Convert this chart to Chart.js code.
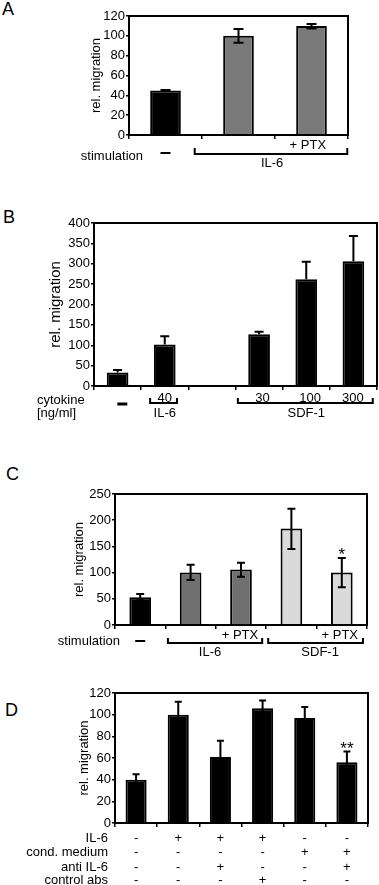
<!DOCTYPE html>
<html><head><meta charset="utf-8">
<script src="https://cdn.jsdelivr.net/npm/chart.js@4.4.1/dist/chart.umd.min.js"></script>
<style>
html,body{margin:0;padding:0;background:#fff;}
body{width:379px;height:885px;position:relative;overflow:hidden;font-family:"Liberation Sans",Arial,sans-serif;}
canvas{position:absolute;left:0;}
.lbl{position:absolute;font-size:18px;line-height:1;color:#000;}
</style></head><body>
<div class="lbl" style="left:2px;top:0px">A</div>
<div class="lbl" style="left:3px;top:208px">B</div>
<div class="lbl" style="left:6px;top:465px">C</div>
<div class="lbl" style="left:5px;top:701px">D</div>
<canvas id="cA" width="379" height="190" style="top:0px"></canvas>
<canvas id="cB" width="379" height="232" style="top:190px"></canvas>
<canvas id="cC" width="379" height="245" style="top:420px"></canvas>
<canvas id="cD" width="379" height="235" style="top:650px"></canvas>
<script>
// ---------- DATA ----------
// Panel A
const aCategories = ['control', 'IL-6', 'IL-6 + PTX'];
const aValues = [45, 100, 110];
const aErrLow = [44.5, 93, 107.5];
const aErrHigh = [45.5, 107, 112];
const aTicks = [0, 20, 40, 60, 80, 100, 120];

// Panel B
const bCategories = ['control', 'IL-6 40', '', 'SDF-1 30', 'SDF-1 100', 'SDF-1 300'];
const bValues = [33, 102, null, 127, 262, 306];
const bErrHigh = [39, 122, null, 133, 305, 368];
const bTicks = [0, 50, 100, 150, 200, 250, 300, 350, 400];
const bDoseIL6 = ['40'];
const bDoseSDF = ['30', '100', '300'];

// Panel C
const cCategories = ['control', 'IL-6', 'IL-6 + PTX', 'SDF-1', 'SDF-1 + PTX'];
const cValues = [53, 100, 106, 184, 100];
const cErrLow = [47, 86, 92, 145, 72];
const cErrHigh = [59, 115, 119, 222, 128];
const cMarks = [null, null, null, null, '*'];
const cTicks = [0, 50, 100, 150, 200, 250];

// Panel D
const dCategories = ['1', '2', '3', '4', '5', '6'];
const dValues = [40, 100, 61, 106, 97, 56];
const dErrLow = [36, 88, 46, 100, 87, 47];
const dErrHigh = [45, 112, 76, 113, 107, 66];
const dMarks = [null, null, null, null, null, '**'];
const dTicks = [0, 20, 40, 60, 80, 100, 120];
const dRowLabels = ['IL-6', 'cond. medium', 'anti IL-6', 'control abs'];
const dRowIL6 = ['-', '+', '+', '+', '-', '-'];
const dRowCond = ['-', '-', '-', '-', '+', '+'];
const dRowAnti = ['-', '-', '+', '-', '-', '+'];
const dRowCtrl = ['-', '-', '-', '+', '-', '-'];

// ---------- PLUGINS ----------
const FONT = '"Liberation Sans", Arial, sans-serif';

const boxPlugin = {
  id: 'box',
  afterDraw(chart) {
    const {ctx, chartArea: a} = chart;
    ctx.save();
    ctx.strokeStyle = '#000';
    ctx.lineWidth = 2;
    ctx.strokeRect(a.left, a.top, a.right - a.left, a.bottom - a.top);
    ctx.restore();
  }
};

const errPlugin = {
  id: 'err',
  afterDatasetsDraw(chart, args, opts) {
    if (!opts || !opts.high) return;
    const meta = chart.getDatasetMeta(0);
    const y = chart.scales.y;
    const ctx = chart.ctx;
    const vals = chart.data.datasets[0].data;
    ctx.save();
    ctx.strokeStyle = '#000';
    ctx.lineWidth = opts.lw || 2;
    const cap = opts.cap || 4;
    opts.high.forEach((hi, i) => {
      if (hi == null) return;
      const el = meta.data[i];
      const x = el.x;
      const lo = opts.low ? opts.low[i] : vals[i];
      const y1 = y.getPixelForValue(hi);
      const y0 = y.getPixelForValue(lo);
      ctx.beginPath();
      ctx.moveTo(x, y0); ctx.lineTo(x, y1);
      ctx.moveTo(x - cap, y1); ctx.lineTo(x + cap, y1);
      if (opts.low) { ctx.moveTo(x - cap, y0); ctx.lineTo(x + cap, y0); }
      ctx.stroke();
      if (opts.marks && opts.marks[i]) {
        ctx.fillStyle = '#000';
        ctx.font = '17px ' + FONT;
        ctx.textAlign = 'center';
        ctx.textBaseline = 'alphabetic';
        ctx.fillText(opts.marks[i], x, y1 + 2);
      }
    });
    ctx.restore();
  }
};

const annotPlugin = {
  id: 'annot',
  afterDraw(chart, args, opts) {
    if (!opts || !opts.items) return;
    const {ctx, chartArea: a} = chart;
    const xs = chart.scales.x;
    const px = (it, key) => (it[key] !== undefined ? xs.getPixelForValue(it[key]) : a.left + it.xl);
    ctx.save();
    ctx.fillStyle = '#000';
    ctx.strokeStyle = '#000';
    opts.items.forEach(it => {
      if (it.t === 'text') {
        ctx.font = (it.size || 13) + 'px ' + FONT;
        ctx.textAlign = it.align || 'center';
        ctx.textBaseline = 'middle';
        ctx.fillText(it.s, px(it, 'c'), a.bottom + it.dy);
      } else if (it.t === 'dash') {
        const x = px(it, 'c');
        ctx.lineWidth = it.lw || 2;
        ctx.beginPath();
        ctx.moveTo(x - it.w / 2, a.bottom + it.dy);
        ctx.lineTo(x + it.w / 2, a.bottom + it.dy);
        ctx.stroke();
      } else if (it.t === 'bracket') {
        const x0 = xs.getPixelForValue(it.c0), x1 = xs.getPixelForValue(it.c1);
        const yb = a.bottom + it.dy;
        ctx.lineWidth = 2;
        ctx.beginPath();
        ctx.moveTo(x0, yb - it.h); ctx.lineTo(x0, yb); ctx.lineTo(x1, yb); ctx.lineTo(x1, yb - it.h);
        ctx.stroke();
      }
    });
    ctx.restore();
  }
};

// ---------- CHART BUILDER ----------
function makeChart(id, cfg) {
  const t = cfg.ticks;
  return new Chart(document.getElementById(id), {
    type: 'bar',
    data: {
      labels: cfg.labels,
      datasets: [{
        data: cfg.values,
        backgroundColor: cfg.colors,
        borderColor: '#000',
        borderWidth: 2,
        borderSkipped: 'start',
        categoryPercentage: 1,
        barPercentage: cfg.barPct
      }]
    },
    options: {
      responsive: false,
      animation: false,
      devicePixelRatio: 1,
      layout: { padding: cfg.pad },
      plugins: {
        legend: { display: false },
        tooltip: { enabled: false },
        err: cfg.err,
        annot: { items: cfg.items }
      },
      scales: {
        x: {
          ticks: { display: false },
          grid: { drawOnChartArea: false, drawTicks: true, tickLength: 4, color: '#000', lineWidth: 1.5, offset: true },
          border: { display: true, color: '#000', width: 2 },
          afterFit(s) { s.height = 10; }
        },
        y: {
          min: t[0], max: t[t.length - 1],
          ticks: { stepSize: t[1] - t[0], color: '#000', font: { family: FONT, size: 13 }, padding: 1 },
          grid: { drawOnChartArea: false, drawTicks: true, tickLength: 3, color: '#000', lineWidth: 1.5 },
          border: { display: true, color: '#000', width: 2 },
          title: { display: true, text: 'rel. migration', color: '#000', font: { family: FONT, size: cfg.titleSize || 13 }, padding: 0 },
          afterFit(s) { s.width = cfg.yW; }
        }
      }
    },
    plugins: [boxPlugin, errPlugin, annotPlugin]
  });
}

// Panel A
makeChart('cA', {
  labels: aCategories, values: aValues, ticks: aTicks,
  colors: ['#000', '#7a7a7a', '#7a7a7a'], barPct: 0.42,
  pad: { left: 89, right: 31, top: 16, bottom: 45 }, yW: 40,
  err: { low: aErrLow, high: aErrHigh, cap: 5, lw: 2 },
  items: [
    { t: 'text', s: 'stimulation', xl: 14, dy: 21, align: 'right' },
    { t: 'dash', c: 0, dy: 18, w: 10, lw: 2 },
    { t: 'bracket', c0: 0.40, c1: 2.49, dy: 19, h: 6 },
    { t: 'text', s: '+ PTX', c: 1.95, dy: 10 },
    { t: 'text', s: 'IL-6', c: 1.46, dy: 28 }
  ]
});

// Panel B
makeChart('cB', {
  labels: bCategories, values: bValues, ticks: bTicks,
  colors: '#000', barPct: 0.46, titleSize: 15,
  pad: { left: 47, right: 2, top: 33, bottom: 26 }, yW: 47,
  err: { high: bErrHigh, cap: 4.5, lw: 2 },
  items: [
    { t: 'text', s: 'cytokine', xl: -57, dy: 14, align: 'left' },
    { t: 'text', s: '[ng/ml]', xl: -57, dy: 27, align: 'left' },
    { t: 'dash', c: 0.1, dy: 18, w: 10, lw: 3 },
    { t: 'bracket', c0: 0.69, c1: 1.26, dy: 17, h: 5 },
    { t: 'text', s: bDoseIL6[0], c: 1.0, dy: 12 },
    { t: 'text', s: 'IL-6', c: 1.0, dy: 27 },
    { t: 'bracket', c0: 2.55, c1: 5.41, dy: 17, h: 5 },
    { t: 'text', s: bDoseSDF[0], c: 3.07, dy: 12 },
    { t: 'text', s: bDoseSDF[1], c: 4.08, dy: 12 },
    { t: 'text', s: bDoseSDF[2], c: 4.99, dy: 12 },
    { t: 'text', s: 'SDF-1', c: 4.0, dy: 27 }
  ]
});

// Panel C
makeChart('cC', {
  labels: cCategories, values: cValues, ticks: cTicks,
  colors: ['#000', '#707070', '#707070', '#dadada', '#dadada'], barPct: 0.43,
  pad: { left: 72, right: 12, top: 74, bottom: 30 }, yW: 43,
  err: { low: cErrLow, high: cErrHigh, cap: 4, lw: 2, marks: cMarks },
  items: [
    { t: 'text', s: 'stimulation', xl: 5, dy: 16, align: 'right' },
    { t: 'dash', c: 0, dy: 16, w: 10, lw: 2 },
    { t: 'bracket', c0: 0.55, c1: 2.42, dy: 18, h: 5 },
    { t: 'text', s: '+ PTX', c: 1.98, dy: 10 },
    { t: 'text', s: 'IL-6', c: 1.385, dy: 27 },
    { t: 'bracket', c0: 2.54, c1: 4.42, dy: 18, h: 5 },
    { t: 'text', s: '+ PTX', c: 3.96, dy: 10 },
    { t: 'text', s: 'SDF-1', c: 3.57, dy: 27 }
  ]
});

// Panel D
const dRows = [dRowIL6, dRowCond, dRowAnti, dRowCtrl];
const dRowDy = [15, 29, 44, 57];
const dItems = [];
dRowLabels.forEach((lab, r) => {
  dItems.push({ t: 'text', s: lab, xl: -7, dy: dRowDy[r], align: 'right' });
  dRows[r].forEach((sign, i) => dItems.push({ t: 'text', s: sign, c: i, dy: dRowDy[r] }));
});
makeChart('cD', {
  labels: dCategories, values: dValues, ticks: dTicks,
  colors: '#000', barPct: 0.5,
  pad: { left: 77, right: 11, top: 43, bottom: 52 }, yW: 38,
  err: { low: dErrLow, high: dErrHigh, cap: 3.5, lw: 2, marks: dMarks },
  items: dItems
});
</script>
</body></html>
